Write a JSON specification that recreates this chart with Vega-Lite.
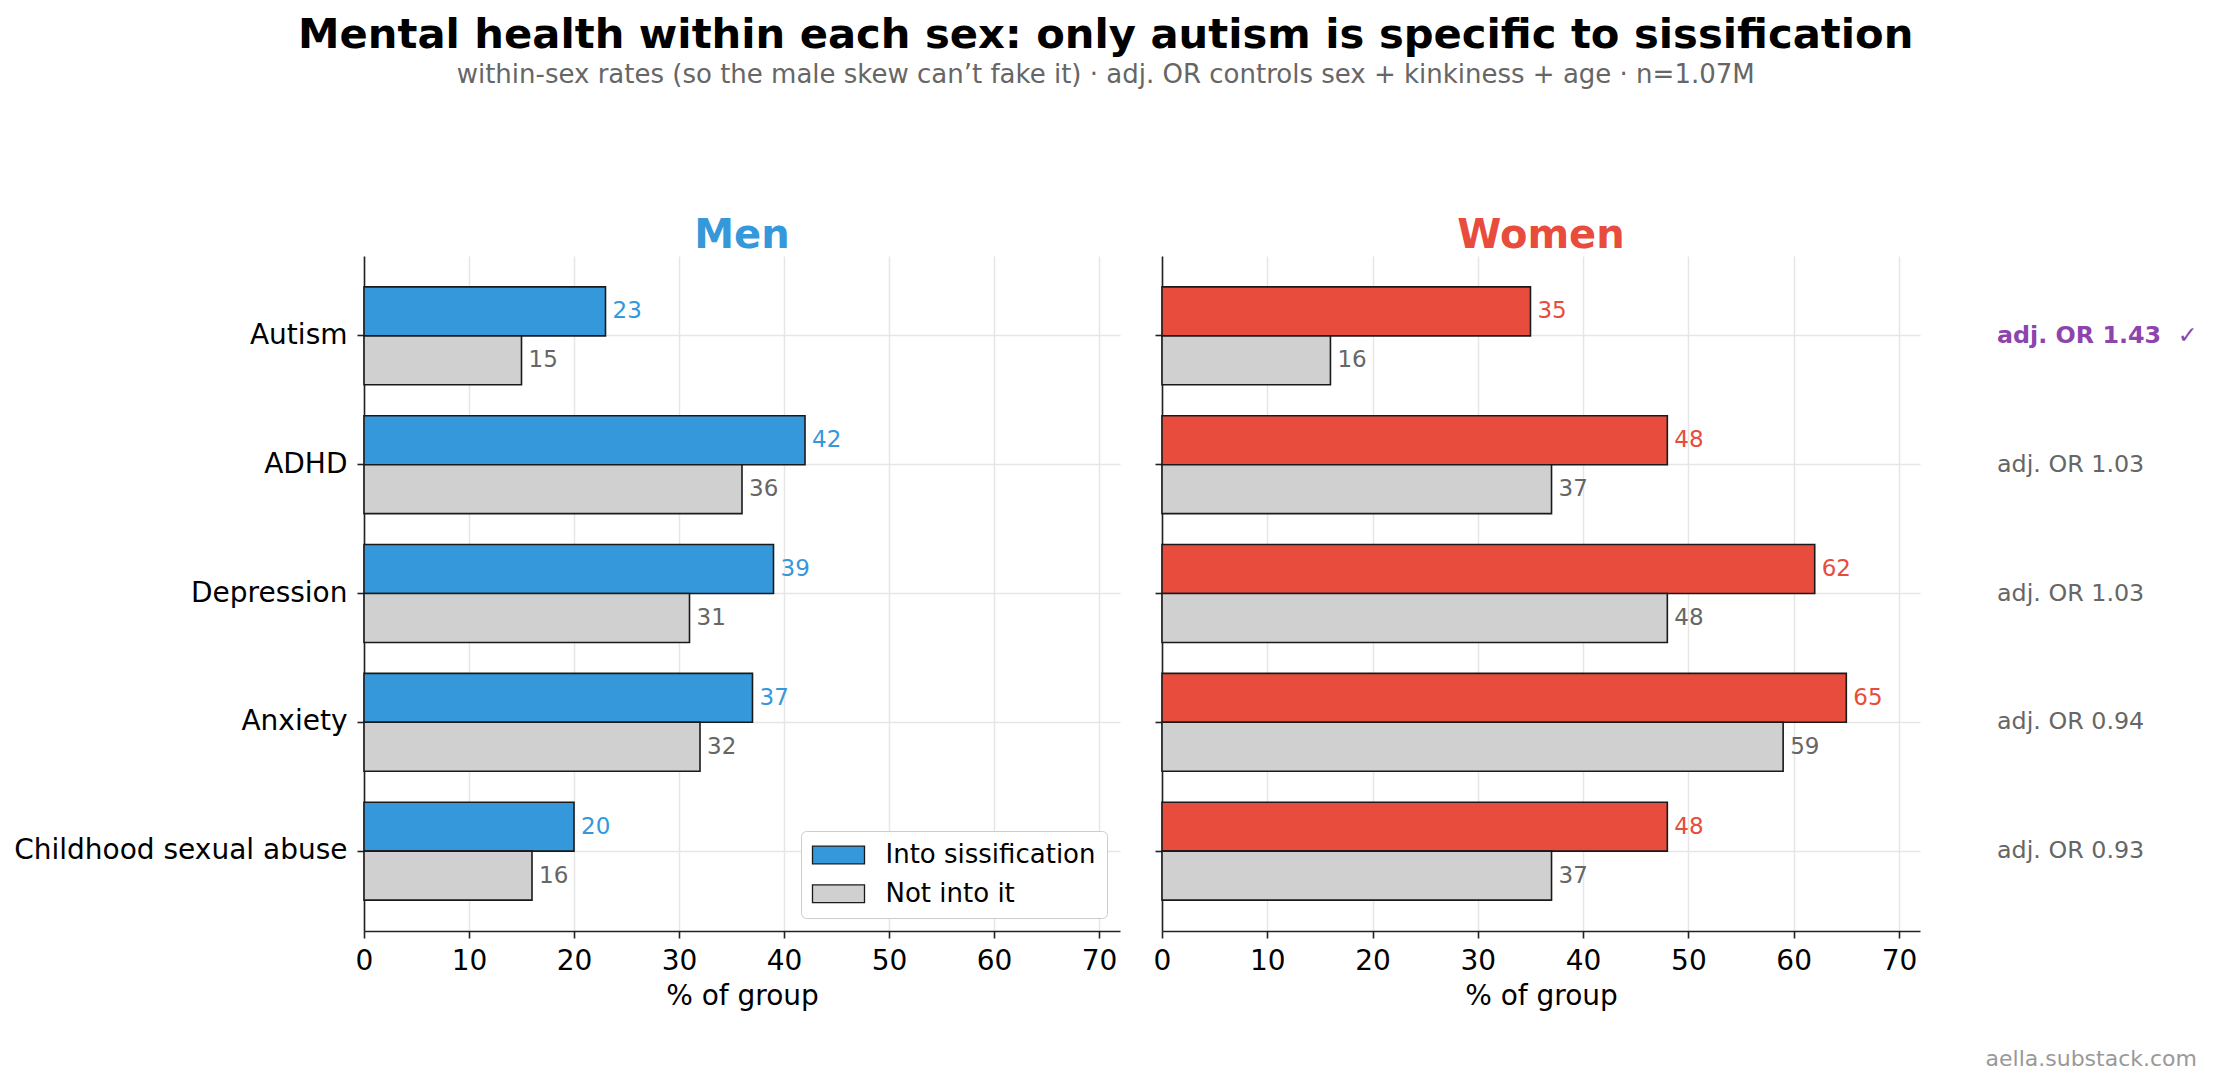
{
  "$schema": "https://vega.github.io/schema/vega-lite/v6.json",
  "padding": {"left": 13, "top": 15, "right": 14, "bottom": 5},
  "config": {
    "font": "DejaVu Sans",
    "view": {"stroke": null},
    "axis": {
      "domainColor": "#222222",
      "domainWidth": 1.6,
      "tickColor": "#222222",
      "tickWidth": 1.6,
      "tickSize": 7,
      "labelFontSize": 28,
      "labelColor": "#000000",
      "labelPadding": 9,
      "titleFontSize": 28,
      "titleFontWeight": "normal",
      "titleColor": "#000000",
      "titlePadding": 7,
      "gridColor": "#e6e6e6",
      "gridWidth": 1.5
    }
  },
  "title": {
    "text": "Mental health within each sex: only autism is specific to sissification",
    "subtitle": "within-sex rates (so the male skew can’t fake it) · adj. OR controls sex + kinkiness + age · n=1.07M",
    "anchor": "middle",
    "fontSize": 41.7,
    "fontWeight": "bold",
    "color": "#000000",
    "subtitleFontSize": 26,
    "subtitleColor": "#666666",
    "subtitlePadding": 5,
    "offset": 128
  },
  "datasets": {
    "rates": [
      {"sex": "Men", "condition": "Autism", "group": "Into sissification", "pct": 23},
      {"sex": "Men", "condition": "Autism", "group": "Not into it", "pct": 15},
      {"sex": "Men", "condition": "ADHD", "group": "Into sissification", "pct": 42},
      {"sex": "Men", "condition": "ADHD", "group": "Not into it", "pct": 36},
      {"sex": "Men", "condition": "Depression", "group": "Into sissification", "pct": 39},
      {"sex": "Men", "condition": "Depression", "group": "Not into it", "pct": 31},
      {"sex": "Men", "condition": "Anxiety", "group": "Into sissification", "pct": 37},
      {"sex": "Men", "condition": "Anxiety", "group": "Not into it", "pct": 32},
      {"sex": "Men", "condition": "Childhood sexual abuse", "group": "Into sissification", "pct": 20},
      {"sex": "Men", "condition": "Childhood sexual abuse", "group": "Not into it", "pct": 16},
      {"sex": "Women", "condition": "Autism", "group": "Into sissification", "pct": 35},
      {"sex": "Women", "condition": "Autism", "group": "Not into it", "pct": 16},
      {"sex": "Women", "condition": "ADHD", "group": "Into sissification", "pct": 48},
      {"sex": "Women", "condition": "ADHD", "group": "Not into it", "pct": 37},
      {"sex": "Women", "condition": "Depression", "group": "Into sissification", "pct": 62},
      {"sex": "Women", "condition": "Depression", "group": "Not into it", "pct": 48},
      {"sex": "Women", "condition": "Anxiety", "group": "Into sissification", "pct": 65},
      {"sex": "Women", "condition": "Anxiety", "group": "Not into it", "pct": 59},
      {"sex": "Women", "condition": "Childhood sexual abuse", "group": "Into sissification", "pct": 48},
      {"sex": "Women", "condition": "Childhood sexual abuse", "group": "Not into it", "pct": 37}
    ],
    "odds": [
      {"condition": "Autism", "label": "adj. OR 1.43\u00a0 ✓", "specific": true},
      {"condition": "ADHD", "label": "adj. OR 1.03", "specific": false},
      {"condition": "Depression", "label": "adj. OR 1.03", "specific": false},
      {"condition": "Anxiety", "label": "adj. OR 0.94", "specific": false},
      {"condition": "Childhood sexual abuse", "label": "adj. OR 0.93", "specific": false}
    ]
  },
  "bounds": "flush",
  "spacing": 42,
  "resolve": {"scale": {"color": "independent"}, "legend": {"color": "independent"}},
  "hconcat": [
    {
      "width": 756,
      "height": 675,
      "title": {"text": "Men", "color": "#3498db", "fontSize": 40, "fontWeight": "bold", "baseline": "alphabetic", "offset": -32, "anchor": "middle", "frame": "group"},
      "data": {"name": "rates"},
      "transform": [{"filter": "datum.sex === 'Men'"}],
      "encoding": {
        "y": {
          "field": "condition",
          "type": "nominal",
          "scale": {"domain": ["Autism", "ADHD", "Depression", "Anxiety", "Childhood sexual abuse"], "paddingInner": 0.24, "paddingOuter": 0.24},
          "axis": {"title": null, "bandPosition": 0.5, "grid": true, "labelLimit": 600, "labelPadding": 10}
        },
        "yOffset": {
          "field": "group",
          "type": "nominal",
          "scale": {"domain": ["Into sissification", "Not into it"], "paddingInner": 0, "paddingOuter": 0}
        },
        "x": {
          "field": "pct",
          "type": "quantitative",
          "scale": {"domain": [0, 72], "nice": false},
          "axis": {"title": "% of group", "values": [0, 10, 20, 30, 40, 50, 60, 70], "labelFlush": false, "labelOverlap": false, "grid": true}
        }
      },
      "layer": [
        {
          "mark": {"type": "bar", "stroke": "#1a1a1a", "strokeWidth": 1.6},
          "encoding": {
            "color": {
              "field": "group",
              "type": "nominal",
              "scale": {"domain": ["Into sissification", "Not into it"], "range": ["#3498db", "#d0d0d0"]},
              "legend": {
                "title": null,
                "orient": "bottom-right",
                "offset": 13,
                "symbolType": "M-2.94,-1H2.94V1H-2.94Z",
                "symbolSize": 313,
                "symbolOffset": 13.5,
                "symbolStrokeColor": "#1a1a1a",
                "symbolStrokeWidth": 1.3,
                "symbolOpacity": 1,
                "labelFontSize": 26,
                "labelColor": "#000000",
                "labelOffset": 34,
                "labelLimit": 400,
                "rowPadding": 12.8,
                "padding": 11,
                "fillColor": "#ffffff",
                "strokeColor": "#cccccc",
                "cornerRadius": 5
              }
            }
          }
        },
        {
          "mark": {"type": "text", "align": "left", "baseline": "middle", "dx": 7, "fontSize": 23},
          "encoding": {
            "text": {"field": "pct", "type": "quantitative"},
            "color": {"condition": {"test": "datum.group === 'Not into it'", "value": "#666666"}, "value": "#3498db"}
          }
        }
      ]
    },
    {
      "width": 758,
      "height": 675,
      "title": {"text": "Women", "color": "#e74c3c", "fontSize": 40, "fontWeight": "bold", "baseline": "alphabetic", "offset": -32, "anchor": "middle", "frame": "group"},
      "data": {"name": "rates"},
      "transform": [{"filter": "datum.sex === 'Women'"}],
      "encoding": {
        "y": {
          "field": "condition",
          "type": "nominal",
          "scale": {"domain": ["Autism", "ADHD", "Depression", "Anxiety", "Childhood sexual abuse"], "paddingInner": 0.24, "paddingOuter": 0.24},
          "axis": {"title": null, "bandPosition": 0.5, "grid": true, "labels": false}
        },
        "yOffset": {
          "field": "group",
          "type": "nominal",
          "scale": {"domain": ["Into sissification", "Not into it"], "paddingInner": 0, "paddingOuter": 0}
        },
        "x": {
          "field": "pct",
          "type": "quantitative",
          "scale": {"domain": [0, 72], "nice": false},
          "axis": {"title": "% of group", "values": [0, 10, 20, 30, 40, 50, 60, 70], "labelFlush": false, "labelOverlap": false, "grid": true}
        }
      },
      "layer": [
        {
          "mark": {"type": "bar", "stroke": "#1a1a1a", "strokeWidth": 1.6},
          "encoding": {
            "color": {
              "field": "group",
              "type": "nominal",
              "scale": {"domain": ["Into sissification", "Not into it"], "range": ["#e74c3c", "#d0d0d0"]},
              "legend": null
            }
          }
        },
        {
          "mark": {"type": "text", "align": "left", "baseline": "middle", "dx": 7, "fontSize": 23},
          "encoding": {
            "text": {"field": "pct", "type": "quantitative"},
            "color": {"condition": {"test": "datum.group === 'Not into it'", "value": "#666666"}, "value": "#e74c3c"}
          }
        }
      ]
    },
    {
      "width": 235,
      "height": 675,
      "title": {"text": "aella.substack.com", "orient": "bottom", "anchor": "end", "frame": "group", "baseline": "alphabetic", "offset": 135, "fontSize": 22, "fontWeight": "normal", "color": "#999999"},
      "data": {"name": "odds"},
      "encoding": {
        "y": {
          "field": "condition",
          "type": "nominal",
          "scale": {"type": "band", "domain": ["Autism", "ADHD", "Depression", "Anxiety", "Childhood sexual abuse"], "paddingInner": 0.24, "paddingOuter": 0.24},
          "axis": null
        },
        "x": {"value": 0},
        "text": {"field": "label", "type": "nominal"}
      },
      "layer": [
        {
          "transform": [{"filter": "datum.specific"}],
          "mark": {"type": "text", "align": "left", "baseline": "middle", "dx": 35, "fontSize": 23.8, "fontWeight": "bold", "color": "#8e44ad"}
        },
        {
          "transform": [{"filter": "!datum.specific"}],
          "mark": {"type": "text", "align": "left", "baseline": "middle", "dx": 35, "fontSize": 23.8, "color": "#666666"}
        }
      ]
    }
  ]
}
